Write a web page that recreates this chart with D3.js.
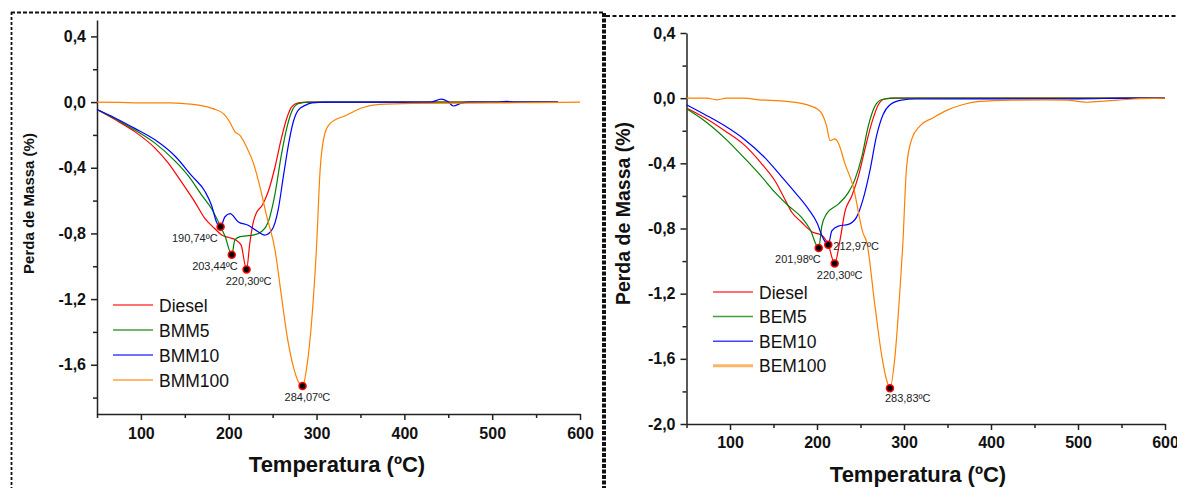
<!DOCTYPE html>
<html>
<head>
<meta charset="utf-8">
<script src="https://cdn.jsdelivr.net/npm/d3@7"></script>
<style>
  body { margin: 0; background: #fff; }
  svg { display: block; font-family: "Liberation Sans", Arial, sans-serif; }
</style>
</head>
<body>
<div id="chart"></div>
<script>
// ---- dados: [temperatura ºC, perda de massa %] ----
const xMajor = [100, 200, 300, 400, 500, 600];
const xMinor = [50, 150, 250, 350, 450, 550];

const leftLabels = ["Diesel", "BMM5", "BMM10", "BMM100"];
const rightLabels = ["Diesel", "BEM5", "BEM10", "BEM100"];

const leftYMajor = [0.4, 0, -0.4, -0.8, -1.2, -1.6];
const rightYMajor = [0.4, 0, -0.4, -0.8, -1.2, -1.6, -2.0];
const yMinor = [0.2, -0.2, -0.6, -1.0, -1.4, -1.8];

const leftDiesel = [[50,-0.045],[70,-0.105],[93,-0.18],[116,-0.28],[131,-0.37],[146,-0.485],[161,-0.605],[173,-0.71],[184,-0.77],[192,-0.81],[200,-0.825],[208,-0.84],[214,-0.87],[220.3,-1.02],[224,-0.86],[228,-0.73],[232,-0.67],[238,-0.63],[245,-0.545],[252.5,-0.40],[260,-0.22],[266,-0.10],[271.5,-0.03],[279,-0.005],[290,0],[450,0],[575,0]];
const leftBMM5 = [[50,-0.045],[70,-0.10],[93,-0.17],[116,-0.25],[139,-0.36],[154,-0.45],[169,-0.565],[180.5,-0.65],[190,-0.75],[196,-0.82],[203.44,-0.93],[207,-0.84],[213,-0.82],[220,-0.815],[228,-0.81],[237,-0.79],[245,-0.73],[252.5,-0.565],[260,-0.32],[266,-0.16],[271.5,-0.06],[279,-0.01],[290,0],[575,0]];
const leftBMM10 = [[50,-0.045],[70,-0.095],[93,-0.16],[116,-0.23],[139,-0.33],[158,-0.45],[173,-0.545],[180.5,-0.63],[186,-0.73],[190.74,-0.76],[195.5,-0.70],[201.5,-0.68],[211,-0.73],[222,-0.75],[233.5,-0.79],[241,-0.81],[249,-0.78],[256.5,-0.65],[262,-0.46],[268,-0.26],[273.5,-0.12],[279,-0.05],[287,-0.02],[295,-0.005],[310,0],[430,0],[442,0.018],[449,0.005],[456,-0.024],[464,-0.008],[475,0],[505,0],[516,0.004],[527,0],[575,0]];
const leftBMM100 = [[50,0],[75,-0.002],[100,-0.005],[133,-0.005],[150,-0.01],[167,-0.02],[182,-0.04],[194,-0.07],[201,-0.12],[207,-0.18],[213,-0.205],[220,-0.27],[228,-0.37],[235.5,-0.515],[243,-0.69],[252.7,-0.90],[260,-1.18],[266,-1.41],[273.5,-1.61],[279,-1.70],[284.07,-1.73],[289,-1.61],[294.5,-1.33],[300,-0.88],[304,-0.42],[309.5,-0.19],[315.5,-0.13],[334,-0.08],[353,-0.033],[372,-0.014],[410,-0.008],[500,-0.005],[550,-0.003],[600,0]];

const rightDiesel = [[50,-0.06],[71,-0.12],[94,-0.20],[117,-0.29],[136,-0.40],[152,-0.51],[163,-0.62],[171,-0.70],[182,-0.76],[194,-0.82],[205,-0.84],[213,-0.90],[220.3,-1.015],[226.5,-0.87],[232,-0.70],[240,-0.60],[247.5,-0.48],[255,-0.315],[263,-0.15],[270.5,-0.04],[278,-0.005],[290,0],[600,0]];
const rightBEM5 = [[50,-0.065],[71,-0.14],[94,-0.245],[117,-0.37],[136,-0.48],[152,-0.58],[167,-0.66],[182,-0.73],[192,-0.805],[201.98,-0.92],[205.5,-0.785],[211,-0.71],[224.5,-0.65],[236,-0.58],[243.5,-0.50],[251.5,-0.36],[259,-0.17],[266.5,-0.05],[274,-0.01],[285,0],[600,0]];
const rightBEM10 = [[50,-0.04],[71,-0.10],[94,-0.17],[117,-0.255],[140,-0.365],[159,-0.48],[175,-0.58],[190,-0.68],[200,-0.765],[207,-0.86],[212.97,-0.90],[217,-0.815],[224.5,-0.785],[236,-0.775],[245.5,-0.73],[253,-0.62],[261,-0.44],[268.5,-0.23],[276,-0.10],[284,-0.04],[297,-0.012],[313,-0.005],[500,-0.004],[560,0],[600,0]];
const rightBEM100 = [[50,0],[73,0],[85,-0.01],[96,0],[115,0],[134,-0.01],[165,-0.02],[188,-0.04],[203.5,-0.08],[211,-0.17],[215,-0.26],[220.5,-0.25],[224.5,-0.275],[232,-0.40],[241.5,-0.54],[253,-0.83],[257,-0.88],[266.7,-1.28],[274.4,-1.58],[280,-1.73],[283.83,-1.78],[289.7,-1.58],[295.4,-1.17],[298.5,-0.91],[303,-0.42],[309,-0.25],[318.4,-0.17],[333.7,-0.12],[349,-0.075],[368,-0.039],[387,-0.02],[425,-0.012],[464,-0.01],[487,-0.012],[510,-0.025],[533,-0.017],[563.6,-0.005],[600,0]];

// picos marcados (temperatura, perda)
const leftPeakT = [190.74, 203.44, 220.30, 284.07];
const leftPeakV = [-0.76, -0.93, -1.02, -1.73];
const rightPeakT = [201.98, 212.97, 220.30, 283.83];
const rightPeakV = [-0.92, -0.90, -1.015, -1.78];

const colors = ["#ff0000", "#008000", "#0000ff", "#ff8000"];

const pt = d3.formatLocale({ decimal: ",", thousands: ".", grouping: [3], currency: ["", ""], minus: "-" });
const fmtY = pt.format(".1f");
const fmtPeak = d => pt.format(".2f")(d) + "ºC";

const svg = d3.select("#chart").append("svg")
    .attr("width", 1177)
    .attr("height", 488);

// molduras tracejadas
const frame = [
    { x1: 11, y1: 12.5, x2: 604, y2: 12.5, w: 2, dash: "4,2" },
    { x1: 11.5, y1: 12, x2: 11.5, y2: 488, w: 1.8, dash: "3,2" },
    { x1: 604, y1: 13, x2: 604, y2: 488, w: 4, dash: "4,1.5" },
    { x1: 606, y1: 16, x2: 1177, y2: 16, w: 2, dash: "4,2.5" }
];
svg.selectAll(".frame").data(frame).enter().append("line")
    .attr("class", "frame")
    .attr("x1", d => d.x1).attr("y1", d => d.y1)
    .attr("x2", d => d.x2).attr("y2", d => d.y2)
    .style("stroke", "#111")
    .style("stroke-width", d => d.w)
    .style("stroke-dasharray", d => d.dash);

class TGChart {
    constructor(svg, o) {
        this.svg = svg;
        this.o = o;
        this.draw();
    }

    draw() {
        const o = this.o;
        const g = this.svg.append("g");
        const x = d3.scaleLinear().domain([50, 600]).range(o.xRange);
        const y = d3.scaleLinear().domain(o.yDomain).range(o.yRange);
        const yBase = o.yRange[0];
        const xBase = o.xRange[0];

        // ticks menores
        g.append("g")
            .attr("transform", `translate(0,${yBase})`)
            .call(d3.axisBottom(x).tickValues(xMinor).tickSize(4).tickFormat(""))
            .call(s => s.select(".domain").remove());
        g.append("g")
            .attr("transform", `translate(${xBase},0)`)
            .call(d3.axisLeft(y).tickValues(yMinor).tickSize(4).tickFormat(""))
            .call(s => s.select(".domain").remove());

        // eixos
        g.append("g")
            .attr("class", "axis")
            .attr("transform", `translate(0,${yBase})`)
            .call(d3.axisBottom(x).tickValues(xMajor).tickSizeInner(6).tickSizeOuter(0)
                .tickPadding(o.xPad).tickFormat(d3.format("d")));
        g.append("g")
            .attr("class", "axis")
            .attr("transform", `translate(${xBase},0)`)
            .call(d3.axisLeft(y).tickValues(o.yMajor).tickSizeInner(6).tickSizeOuter(0)
                .tickPadding(5).tickFormat(fmtY));

        g.selectAll("path.domain, .tick line")
            .style("stroke", "#222")
            .style("stroke-width", 1.5);
        g.selectAll(".axis text")
            .style("font-size", "16px")
            .style("font-weight", "bold")
            .style("fill", "#111");

        // curvas
        const line = d3.line()
            .x(d => x(d[0]))
            .y(d => y(d[1]))
            .curve(d3.curveMonotoneX);

        g.selectAll(".serie")
            .data(o.series)
            .enter().append("path")
            .attr("class", "serie")
            .attr("d", line)
            .style("fill", "none")
            .style("stroke", (d, i) => colors[i])
            .style("stroke-width", 1.2);

        // picos
        const peaks = o.peakT.map((t, i) => ({ t, v: o.peakV[i], off: o.peakOff[i] }));
        g.selectAll(".peak")
            .data(peaks)
            .enter().append("circle")
            .attr("class", "peak")
            .attr("cx", d => x(d.t))
            .attr("cy", d => y(d.v))
            .attr("r", 3.5)
            .style("fill", "#000")
            .style("stroke", "#ff0000")
            .style("stroke-width", 1.5);

        g.selectAll(".peak-label")
            .data(peaks)
            .enter().append("text")
            .attr("class", "peak-label")
            .attr("x", d => x(d.t) + d.off[1])
            .attr("y", d => y(d.v) + d.off[2])
            .attr("text-anchor", d => d.off[0])
            .style("font-size", "11px")
            .style("fill", "#222")
            .text(d => fmtPeak(d.t));

        // legenda
        const leg = g.selectAll(".leg")
            .data(o.labels)
            .enter().append("g")
            .attr("class", "leg")
            .attr("transform", (d, i) => `translate(${o.legX},${o.legY + i * o.legStep})`);
        leg.append("line")
            .attr("x1", 0).attr("x2", 40)
            .style("stroke", (d, i) => colors[i])
            .style("stroke-width", (d, i) => (i === 3 ? o.legLast : 1.5))
            .style("stroke-opacity", (d, i) => (i === 3 && o.legLast > 2 ? 0.6 : 0.75));
        leg.append("text")
            .attr("x", 46)
            .attr("dy", "0.38em")
            .style("font-size", "17.5px")
            .style("fill", "#111")
            .text(d => d);

        // títulos dos eixos
        g.append("text")
            .attr("x", o.xTitle[0])
            .attr("y", o.xTitle[1])
            .attr("text-anchor", "middle")
            .style("font-size", "22px")
            .style("font-weight", "bold")
            .style("fill", "#111")
            .text("Temperatura (ºC)");
        g.append("text")
            .attr("transform", `translate(${o.yTitle[0]},${o.yTitle[1]}) rotate(-90)`)
            .attr("text-anchor", "middle")
            .attr("dy", "0.35em")
            .style("font-size", o.yTitle[2] + "px")
            .style("font-weight", "bold")
            .style("fill", "#111")
            .text("Perda de Massa (%)");
    }
}

new TGChart(svg, {
    xRange: [97, 580], yDomain: [-1.9, 0.5], yRange: [414, 20],
    yMajor: leftYMajor, xPad: 8,
    series: [leftDiesel, leftBMM5, leftBMM10, leftBMM100],
    labels: leftLabels,
    peakT: leftPeakT, peakV: leftPeakV,
    peakOff: [["end", -3, 15], ["end", 6, 15], ["middle", 2, 15], ["start", -18, 15]],
    legX: 113, legY: 305, legStep: 25, legLast: 1.5,
    xTitle: [337, 472], yTitle: [29, 203.5, 15]
});

new TGChart(svg, {
    xRange: [686.5, 1165], yDomain: [-2.0, 0.4], yRange: [424, 33],
    yMajor: rightYMajor, xPad: 7,
    series: [rightDiesel, rightBEM5, rightBEM10, rightBEM100],
    labels: rightLabels,
    peakT: rightPeakT, peakV: rightPeakV,
    peakOff: [["end", 2, 15], ["start", 5, 5], ["middle", 5, 15], ["start", -5, 14]],
    legX: 713, legY: 292, legStep: 24.6, legLast: 3,
    xTitle: [918, 482], yTitle: [623, 213.5, 19.5]
});
</script>
</body>
</html>
